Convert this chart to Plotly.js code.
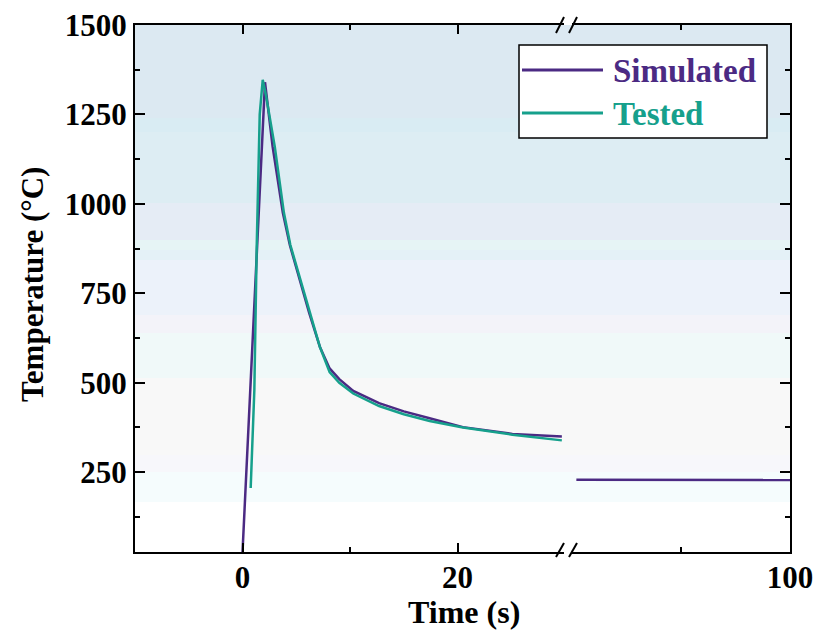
<!DOCTYPE html>
<html>
<head>
<meta charset="utf-8">
<script src="https://cdn.plot.ly/plotly-3.0.1.min.js"></script>
<style>html,body{margin:0;padding:0;background:#fff;}#chart{width:819px;height:637px;}</style>
</head>
<body>
<div id="chart"></div>
<script>
// ---- data ----
var simTime = [0, 2.09, 2.8, 3.75, 4.4, 5.3, 6.2, 7.2, 8.1, 9.0, 10.3, 12.7, 15, 17.4, 20.5, 25.1, 29.7];
var simTemp = [27, 1340, 1160, 975, 885, 790, 695, 600, 540, 510, 477, 443, 420, 401, 376, 357, 350];
var simTimeLate = [80.4, 100];
var simTempLate = [229, 228];
var testTime = [0.76, 1.1, 1.32, 1.47, 1.6, 1.88, 2.2, 3.0, 3.85, 4.45, 5.35, 6.25, 7.2, 8.1, 9.0, 10.3, 12.7, 15, 17.4, 20.5, 25.1, 29.7];
var testTemp = [206, 480, 880, 1068, 1250, 1347, 1300, 1160, 975, 885, 790, 695, 600, 530, 500, 470, 435, 412, 393, 375, 355, 339];
var xTicksLeft = [0, 20];
var xTicksRight = [100];
var yTicks = [250, 500, 750, 1000, 1250, 1500];
var seriesNames = ['Simulated', 'Tested'];
var xTitle = 'Time (s)';
var yTitle = 'Temperature (°C)';

// ---- style ----
var W = 819, H = 637;
var L = 135, R = 790, T = 25, B = 552;
function px(x) { return (x - L) / (R - L); }
function py(y) { return (B - y) / (B - T); }
var cSim = '#4B2A83', cTest = '#16A08C';
var fontFam = '"Liberation Serif", "Times New Roman", serif';
var bands = [
  [25, 118, '#dce9f2'], [118, 132, '#d9ecf3'], [132, 203, '#ddedf3'],
  [203, 240, '#e5ecf5'], [240, 250, '#e6f4f5'], [250, 260, '#e4f1f7'],
  [260, 315, '#ecf2fa'], [315, 333, '#f3f3f9'], [333, 378, '#f0f9f9'],
  [378, 455, '#f8f8f8'], [455, 472, '#f7f7fb'], [472, 502, '#f5fcfd'],
  [502, 552, '#ffffff']
];
var shapes = bands.map(function (b) {
  return {type: 'rect', xref: 'paper', yref: 'paper', x0: 0, x1: 1, y0: py(b[1]), y1: py(b[0]),
    fillcolor: b[2], line: {width: 0}, layer: 'below'};
});
// break marks
[[556, 557, 564, 543], [569, 557, 577, 543], [556, 33, 564, 17], [569, 33, 577, 17]].forEach(function (s) {
  shapes.push({type: 'line', xref: 'paper', yref: 'paper', x0: px(s[0]), y0: py(s[1]), x1: px(s[2]), y1: py(s[3]),
    line: {color: '#000', width: 2}, layer: 'above'});
});
// legend box and lines
shapes.push({type: 'rect', xref: 'paper', yref: 'paper', x0: px(519), x1: px(767), y0: py(138), y1: py(45),
  fillcolor: '#ffffff', line: {color: '#000', width: 1.5}, layer: 'above'});
shapes.push({type: 'line', xref: 'paper', yref: 'paper', x0: px(522), x1: px(603), y0: py(70), y1: py(70),
  line: {color: cSim, width: 3}, layer: 'above'});
shapes.push({type: 'line', xref: 'paper', yref: 'paper', x0: px(522), x1: px(603), y0: py(113), y1: py(113),
  line: {color: cTest, width: 3}, layer: 'above'});

var annotations = [
  {xref: 'paper', yref: 'paper', x: px(611), y: py(71), xanchor: 'left', yanchor: 'middle', showarrow: false,
    text: seriesNames[0], font: {family: fontFam, size: 33, weight: 'bold', color: cSim}},
  {xref: 'paper', yref: 'paper', x: px(611), y: py(114), xanchor: 'left', yanchor: 'middle', showarrow: false,
    text: seriesNames[1], font: {family: fontFam, size: 33, weight: 'bold', color: cTest}},
  {xref: 'paper', yref: 'paper', x: px(464), y: py(612), xanchor: 'center', yanchor: 'middle', showarrow: false,
    text: xTitle, font: {family: fontFam, size: 32, weight: 'bold', color: '#000'}},
  {xref: 'paper', yref: 'paper', x: px(32), y: py(285), xanchor: 'center', yanchor: 'middle', showarrow: false,
    textangle: -90, text: yTitle, font: {family: fontFam, size: 31, weight: 'bold', color: '#000'}}
];

var traces = [
  {x: simTime, y: simTemp, xaxis: 'x', yaxis: 'y', mode: 'lines', name: seriesNames[0],
    line: {color: cSim, width: 2.5}, showlegend: false},
  {x: simTimeLate, y: simTempLate, xaxis: 'x2', yaxis: 'y2', mode: 'lines', name: seriesNames[0],
    line: {color: cSim, width: 2.5}, showlegend: false},
  {x: testTime, y: testTemp, xaxis: 'x', yaxis: 'y', mode: 'lines', name: seriesNames[1],
    line: {color: cTest, width: 2.5}, showlegend: false}
];

var tickFont = {family: fontFam, size: 31, weight: 'bold', color: '#000'};
var minorX = {ticks: 'inside', ticklen: 5, tickwidth: 2, tickcolor: '#000'};
var layout = {
  width: W, height: H,
  margin: {l: L, r: W - R, t: T, b: H - B, pad: 0},
  paper_bgcolor: '#ffffff', plot_bgcolor: 'rgba(0,0,0,0)',
  showlegend: false,
  xaxis: {domain: [0, px(564)], range: [-10, 29.9], anchor: 'y', showgrid: false, zeroline: false,
    showline: true, linecolor: '#000', linewidth: 2, mirror: 'ticks',
    tickmode: 'array', tickvals: xTicksLeft, ticktext: xTicksLeft.map(String),
    ticks: 'inside', ticklen: 9, tickwidth: 2, tickcolor: '#000', tickfont: tickFont, ticklabelstandoff: -3,
    minor: Object.assign({tickvals: [10]}, minorX)},
  xaxis2: {domain: [px(572), 1], range: [80, 100], anchor: 'y2', showgrid: false, zeroline: false,
    showline: true, linecolor: '#000', linewidth: 2, mirror: 'ticks',
    tickmode: 'array', tickvals: xTicksRight, ticktext: xTicksRight.map(String),
    ticks: 'inside', ticklen: 9, tickwidth: 2, tickcolor: '#000', tickfont: tickFont, ticklabelstandoff: -3,
    minor: Object.assign({tickvals: [90]}, minorX)},
  yaxis: {domain: [0, 1], range: [27, 1500], anchor: 'x', showgrid: false, zeroline: false,
    showline: true, linecolor: '#000', linewidth: 2,
    tickmode: 'array', tickvals: yTicks, ticktext: yTicks.map(String),
    ticks: 'inside', ticklen: 10, tickwidth: 2, tickcolor: '#000', tickfont: tickFont,
    minor: {dtick: 125, tick0: 0, ticks: 'inside', ticklen: 5, tickwidth: 2, tickcolor: '#000'}},
  yaxis2: {domain: [0, 1], range: [27, 1500], anchor: 'x2', side: 'right', matches: 'y', showgrid: false, zeroline: false,
    showline: true, linecolor: '#000', linewidth: 2, showticklabels: false,
    tickmode: 'array', tickvals: yTicks,
    ticks: 'inside', ticklen: 10, tickwidth: 2, tickcolor: '#000',
    minor: {dtick: 125, tick0: 0, ticks: 'inside', ticklen: 5, tickwidth: 2, tickcolor: '#000'}},
  shapes: shapes,
  annotations: annotations
};
Plotly.newPlot('chart', traces, layout, {displayModeBar: false, staticPlot: true});
</script>
</body>
</html>
